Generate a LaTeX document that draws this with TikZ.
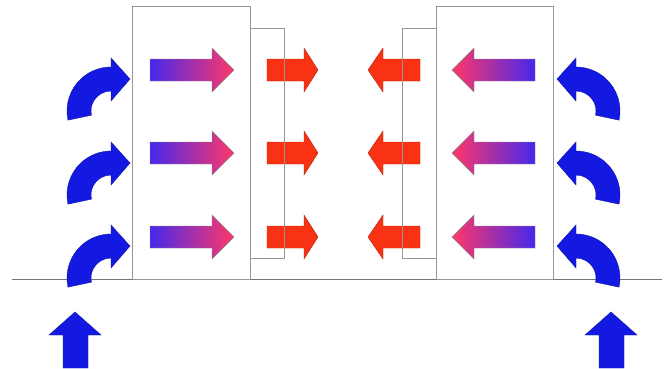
\documentclass[tikz,border=0pt]{standalone}
\usetikzlibrary{calc}
\definecolor{airblue}{RGB}{20,25,225}
\definecolor{warmred}{RGB}{250,50,20}
\definecolor{coolend}{RGB}{70,40,235}
\definecolor{hotend}{RGB}{255,55,105}
\definecolor{wallgray}{RGB}{150,150,150}
\tikzset{
	wall/.style={draw=wallgray, line width=1},
	ground/.style={draw=black!55, line width=1},
	airflow/.style={fill=airblue, draw=airblue!75!black, line width=0.4},
	heatflow/.style={fill=warmred, draw=warmred!70!black, line width=0.4},
	warmup/.style={left color=coolend, right color=hotend, draw=black!45, line width=0.4},
	warmdown/.style={left color=hotend, right color=coolend, draw=black!45, line width=0.4},
}
\def\bentarrow[#1](#2){\begin{scope}[shift={(#2)},yscale=-1,#1]
	\path[airflow] (192:44) arc (192:90:44) -- (90:53) -- ($(90:32)+(0:19)$) -- (90:10) -- (90:20) arc (90:192:20) -- cycle;
\end{scope}}
\def\pointer[#1](#2,#3,#4,#5){\path[#1] (#2,#5-11) -- (#3,#5-11) -- (#3,#5-22) -- (#4,#5) -- (#3,#5+22) -- (#3,#5+11) -- (#2,#5+11) -- cycle;}

\begin{document}
\begin{tikzpicture}[x=1pt, y=-1pt]
			%%%%% START %%%%%
			\fill[white] (0,0) rectangle (672,368);
			\useasboundingbox (0,0) rectangle (672,368);
			
			\draw[ground] (12, 279) -- (662, 279);
			
			\draw[wall] (132, 6) rectangle (250, 279);
			\draw[wall] (436, 6) rectangle (553, 279);
			
			\pointer[warmup](150,212,234,70)
			\pointer[warmup](150,212,234,153)
			\pointer[warmup](150,212,234,237)
			
			\pointer[warmdown](535,474,452,70)
			\pointer[warmdown](535,474,452,153)
			\pointer[warmdown](535,474,452,237)
			
			\pointer[heatflow](267,304,318,70)
			\pointer[heatflow](267,304,318,153)
			\pointer[heatflow](267,304,318,237)
			
			\pointer[heatflow](420,383,368,70)
			\pointer[heatflow](420,383,368,153)
			\pointer[heatflow](420,383,368,237)
			
			\draw[wall] (250, 28) -- (284, 28) -- (284, 258) -- (250, 258);
			\draw[wall] (436, 28) -- (402, 28) -- (402, 258) -- (436, 258);
			
			\bentarrow[](111,111)
			\bentarrow[](111,195)
			\bentarrow[](111,278)
			
			\bentarrow[xscale=-1](576,111)
			\bentarrow[xscale=-1](576,195)
			\bentarrow[xscale=-1](576,278)
			
			\path[airflow] (63,368) -- (63,335) -- (49,335) -- (75,312) -- (101,335) -- (88,335) -- (88,368) -- cycle;
			\path[airflow] (599,368) -- (599,335) -- (585,335) -- (611,312) -- (637,335) -- (624,335) -- (624,368) -- cycle;
			
			%%%%% END %%%%%
		\end{tikzpicture}
\end{document}
